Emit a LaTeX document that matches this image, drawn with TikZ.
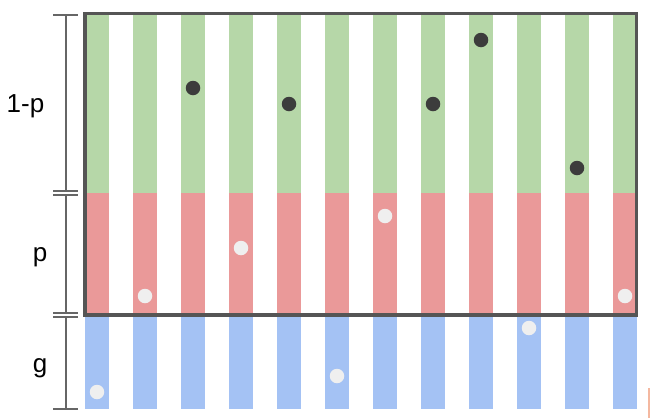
\documentclass[tikz,border=0pt]{standalone}
\usepackage{fontspec}
\setmainfont{Liberation Sans}
\definecolor{gbar}{HTML}{B6D7A8}
\definecolor{rbar}{HTML}{EA9999}
\definecolor{bbar}{HTML}{A4C2F4}
\definecolor{darkdot}{HTML}{3C3C3C}
\definecolor{lightdot}{HTML}{EFEFEF}
\definecolor{boxc}{HTML}{555555}
\definecolor{brc}{HTML}{666666}
\definecolor{orc}{HTML}{F4B8A0}
\tikzset{
  lbl/.style={anchor=base, inner sep=0pt, font=\fontsize{26}{31}\selectfont},
  ddot/.style={circle, fill=darkdot, minimum size=14.5pt, inner sep=0pt},
  ldot/.style={circle, fill=lightdot, minimum size=14.5pt, inner sep=0pt},
  brline/.style={draw=brc, line width=1.5pt},
}
\begin{document}
\begin{tikzpicture}[x=1pt,y=-1pt]
\useasboundingbox (0,0) rectangle (650,418);
% bars
\foreach \i in {0,...,11}{
  \fill[gbar] (85+48*\i,13.5) rectangle (109+48*\i,193);
  \fill[rbar] (85+48*\i,193) rectangle (109+48*\i,315);
  \fill[bbar] (85+48*\i,315) rectangle (109+48*\i,409);
}
% box
\draw[boxc, line width=3.5pt] (85,13.5) rectangle (636.5,315);
% bracket
\draw[brline] (66,15) -- (66,191);
\draw[brline] (66,195) -- (66,313);
\draw[brline] (66,317) -- (66,409);
\foreach \y in {15,191,195,313,317,409}{
  \draw[brline] (53,\y) -- (78,\y);
}
% labels
\node[lbl] (l1) at (25.5,112) {1-p};
\node[lbl] (l2) at (40,261) {p};
\node[lbl] (l3) at (40,372) {g};
% dark dots
\node[ddot] (d1) at (193,88) {};
\node[ddot] (d2) at (289,104) {};
\node[ddot] (d3) at (433,104) {};
\node[ddot] (d4) at (481,40) {};
\node[ddot] (d5) at (577,168) {};
% light dots
\node[ldot] (e1) at (145,296) {};
\node[ldot] (e2) at (241,248) {};
\node[ldot] (e3) at (385,216) {};
\node[ldot] (e4) at (625,296) {};
\node[ldot] (e5) at (97,392) {};
\node[ldot] (e6) at (337,376) {};
\node[ldot] (e7) at (529,328) {};
% orange mark
\draw[orc, line width=2pt] (648.5,388) -- (648.5,418);
\end{tikzpicture}
\end{document}
